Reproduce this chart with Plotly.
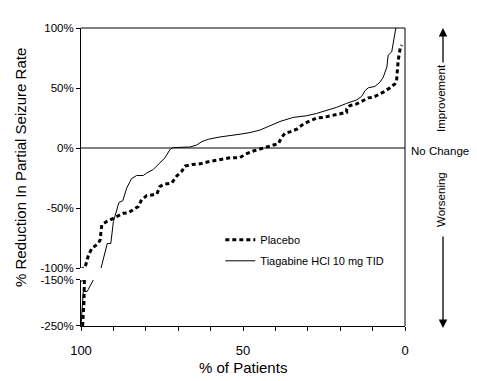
import plotly.graph_objects as go

# ---------------- data ----------------
tiag_x = [100, 99.3, 98.1, 96.7, 93.8, 91.9, 90.8, 90.0, 89.3, 88.3, 87.1, 85.9, 84.4, 82.8,
          80.8, 79.7, 77.7, 75.6, 74.1, 72.5, 71.5, 66.4, 64.3, 62.7, 60.7, 57.1, 54.0, 50.9,
          47.8, 44.8, 41.7, 38.6, 34.5, 30.3, 27.3, 24.2, 21.1, 18.0, 14.9, 13.4, 12.3, 11.3,
          9.3, 7.7, 6.7, 5.6, 5.2, 4.1, 3.4, 2.6, 2.2]
tiag_y = [-250, -175, -175, -150, -100, -79.6, -79.6, -61.3, -54.4, -45.4, -43.9, -33.4, -25.5, -22.9,
          -22.9, -20.8, -17.9, -12.4, -8.2, -1.1, 0.3, 0.8, 2.5, 5.3, 7.3, 9.2, 10.1, 11.5,
          12.9, 14.9, 18.5, 22.1, 25.5, 26.9, 28.8, 31.1, 33.9, 37.2, 40.1, 42.9, 47.9, 50.2,
          51.3, 54.9, 59.1, 67.5, 77.3, 80.1, 89.9, 99.7, 110]

plac_x = [99.5, 99.5, 99.3, 99.1, 99.0, 99.0, 98.8, 98.2, 97.7, 96.7, 94.7, 94.1, 93.6, 92.1,
          90.5, 89.0, 86.9, 85.4, 83.9, 82.3, 81.3, 79.7, 77.7, 76.6, 75.6, 74.1, 72.0, 70.5,
          68.9, 67.9, 65.8, 63.3, 60.7, 58.6, 56.6, 54.0, 50.9, 49.4, 46.8, 43.7, 40.6, 39.1,
          38.1, 37.0, 35.5, 33.4, 31.4, 29.3, 27.3, 25.2, 22.6, 20.1, 18.0, 18.0, 17.0, 14.9,
          12.9, 11.3, 9.8, 8.2, 6.7, 4.6, 3.1, 2.6, 2.4, 2.1, 1.5, 1.0]
plac_y = [-250, -240.7, -222.5, -200.7, -175.4, -164.6, -100, -95, -89.3, -83.8, -79.6, -76.7, -64.1, -61.3,
          -59.1, -57.1, -54.4, -54.0, -51.5, -48.7, -43.1, -39.7, -38.9, -38.4, -31.9, -30.0, -29.2, -23.5,
          -19.3, -15.1, -13.7, -13.2, -11.5, -10.3, -9.5, -8.2, -8.0, -5.3, -2.5, 0.3, 2.5, 3.6,
          8.7, 12.4, 13.4, 15.7, 19.9, 22.7, 25.0, 25.5, 26.9, 28.3, 29.7, 32.5, 35.3, 36.7,
          39.5, 41.8, 42.3, 44.5, 46.5, 50.2, 53.5, 56.3, 64.7, 73.1, 82.9, 85.7]

upper_ticks = [100, 50, 0, -50, -100]
upper_labels = ["100%", "50%", "0%", "-50%", "-100%"]
lower_ticks = [-150, -250]
lower_labels = ["-150%", "-250%"]
x_ticks = [100, 90, 80, 70, 60, 50, 40, 30, 20, 10, 0]
x_labels = ["100", "", "", "", "", "50", "", "", "", "", "0"]

FONT = "Liberation Sans, Arial, Helvetica, sans-serif"
dotted = dict(color="black", width=3, dash="4px,3px")
solid = dict(color="black", width=1)

fig = go.Figure()
# upper panel
fig.add_trace(go.Scatter(x=plac_x, y=plac_y, mode="lines", line=dotted, name="Placebo",
                         legendgroup="p", xaxis="x", yaxis="y"))
fig.add_trace(go.Scatter(x=tiag_x, y=tiag_y, mode="lines", line=solid, name="Tiagabine HCl 10 mg TID",
                         legendgroup="t", xaxis="x", yaxis="y"))
# lower (broken) panel
fig.add_trace(go.Scatter(x=plac_x, y=plac_y, mode="lines", line=dotted, showlegend=False,
                         xaxis="x", yaxis="y2"))
fig.add_trace(go.Scatter(x=tiag_x, y=tiag_y, mode="lines", line=solid, showlegend=False,
                         xaxis="x", yaxis="y2"))

axis_common = dict(showgrid=False, zeroline=False, showline=True, linecolor="black", linewidth=1,
                   ticks="outside", ticklen=4, tickcolor="black", tickwidth=1, automargin=False,
                   tickfont=dict(family=FONT, size=11.5, color="black"))

fig.update_layout(
    width=477, height=381,
    margin=dict(l=81, r=72, t=28, b=55, autoexpand=False),
    paper_bgcolor="white", plot_bgcolor="white",
    font=dict(family=FONT, color="black"),
    xaxis=dict(range=[100, 0], domain=[0, 1], anchor="y2", showgrid=False, zeroline=False,
               showline=True, linecolor="black", linewidth=1, ticks="outside", ticklen=4,
               tickcolor="black", tickvals=x_ticks, ticktext=x_labels, ticklabelstandoff=8,
               automargin=False, tickfont=dict(family=FONT, size=13, color="black")),
    yaxis=dict(range=[-100, 100], domain=[0.1946, 1], anchor="x", tickvals=upper_ticks,
               ticktext=upper_labels, **axis_common),
    yaxis2=dict(range=[-250, -150], domain=[0, 0.1544], anchor="x", tickvals=lower_ticks,
                ticktext=lower_labels, **axis_common),
    showlegend=True,
    legend=dict(x=0.43, y=0.254, xanchor="left", yanchor="middle", bgcolor="rgba(0,0,0,0)",
                font=dict(family=FONT, size=11, color="black"), tracegroupgap=2),
)

shapes = [
    # top border
    dict(type="line", xref="paper", yref="paper", x0=0, x1=1, y0=1, y1=1,
         line=dict(color="black", width=1)),
    # right border
    dict(type="line", xref="paper", yref="paper", x0=1, x1=1, y0=0, y1=1,
         line=dict(color="black", width=1)),
    # no-change line
    dict(type="line", xref="paper", yref="y", x0=0, x1=1, y0=0, y1=0,
         line=dict(color="black", width=1)),
    # axis break marks
    dict(type="line", xref="x", xsizemode="pixel", xanchor=100, x0=-4, x1=3,
         yref="y", ysizemode="pixel", yanchor=-100, y0=-2, y1=1, line=dict(color="black", width=1)),
    dict(type="line", xref="x", xsizemode="pixel", xanchor=100, x0=-1, x1=5,
         yref="y2", ysizemode="pixel", yanchor=-150, y0=-2, y1=1, line=dict(color="black", width=1)),
]
fig.update_layout(shapes=shapes)

ann = [
    dict(text="% Reduction In Partial Seizure Rate", xref="paper", yref="paper",
         x=-61 / 324, y=(326 - 168) / 298, textangle=-90, showarrow=False,
         font=dict(family=FONT, size=15, color="black"), xanchor="center", yanchor="middle"),
    dict(text="% of Patients", xref="paper", yref="paper", x=(243 - 81) / 324, y=(326 - 367) / 298,
         showarrow=False, font=dict(family=FONT, size=15, color="black"),
         xanchor="center", yanchor="middle"),
    dict(text="No Change", xref="paper", yref="paper", x=(440 - 81) / 324, y=(326 - 151) / 298,
         showarrow=False, font=dict(family=FONT, size=11.5, color="black"),
         xanchor="center", yanchor="middle"),
    dict(text="Improvement", xref="paper", yref="paper", x=(441 - 81) / 324, y=(326 - 98) / 298,
         textangle=-90, showarrow=False, font=dict(family=FONT, size=11.5, color="black"),
         xanchor="center", yanchor="middle"),
    dict(text="Worsening", xref="paper", yref="paper", x=(441 - 81) / 324, y=(326 - 200) / 298,
         textangle=-90, showarrow=False, font=dict(family=FONT, size=11.5, color="black"),
         xanchor="center", yanchor="middle"),
    # arrows
    dict(text="", xref="paper", yref="paper", x=(443 - 81) / 324, y=(326 - 28) / 298,
         ax=0, ay=36, showarrow=True, arrowhead=2, arrowsize=1.3, arrowwidth=1.3,
         arrowcolor="black"),
    dict(text="", xref="paper", yref="paper", x=(443 - 81) / 324, y=(326 - 328) / 298,
         ax=0, ay=-93, showarrow=True, arrowhead=2, arrowsize=1.3, arrowwidth=1.3,
         arrowcolor="black"),
]
fig.update_layout(annotations=ann)

fig.write_html("out.html", config={"displayModeBar": False},
               post_script="document.body.style.margin='0';")
